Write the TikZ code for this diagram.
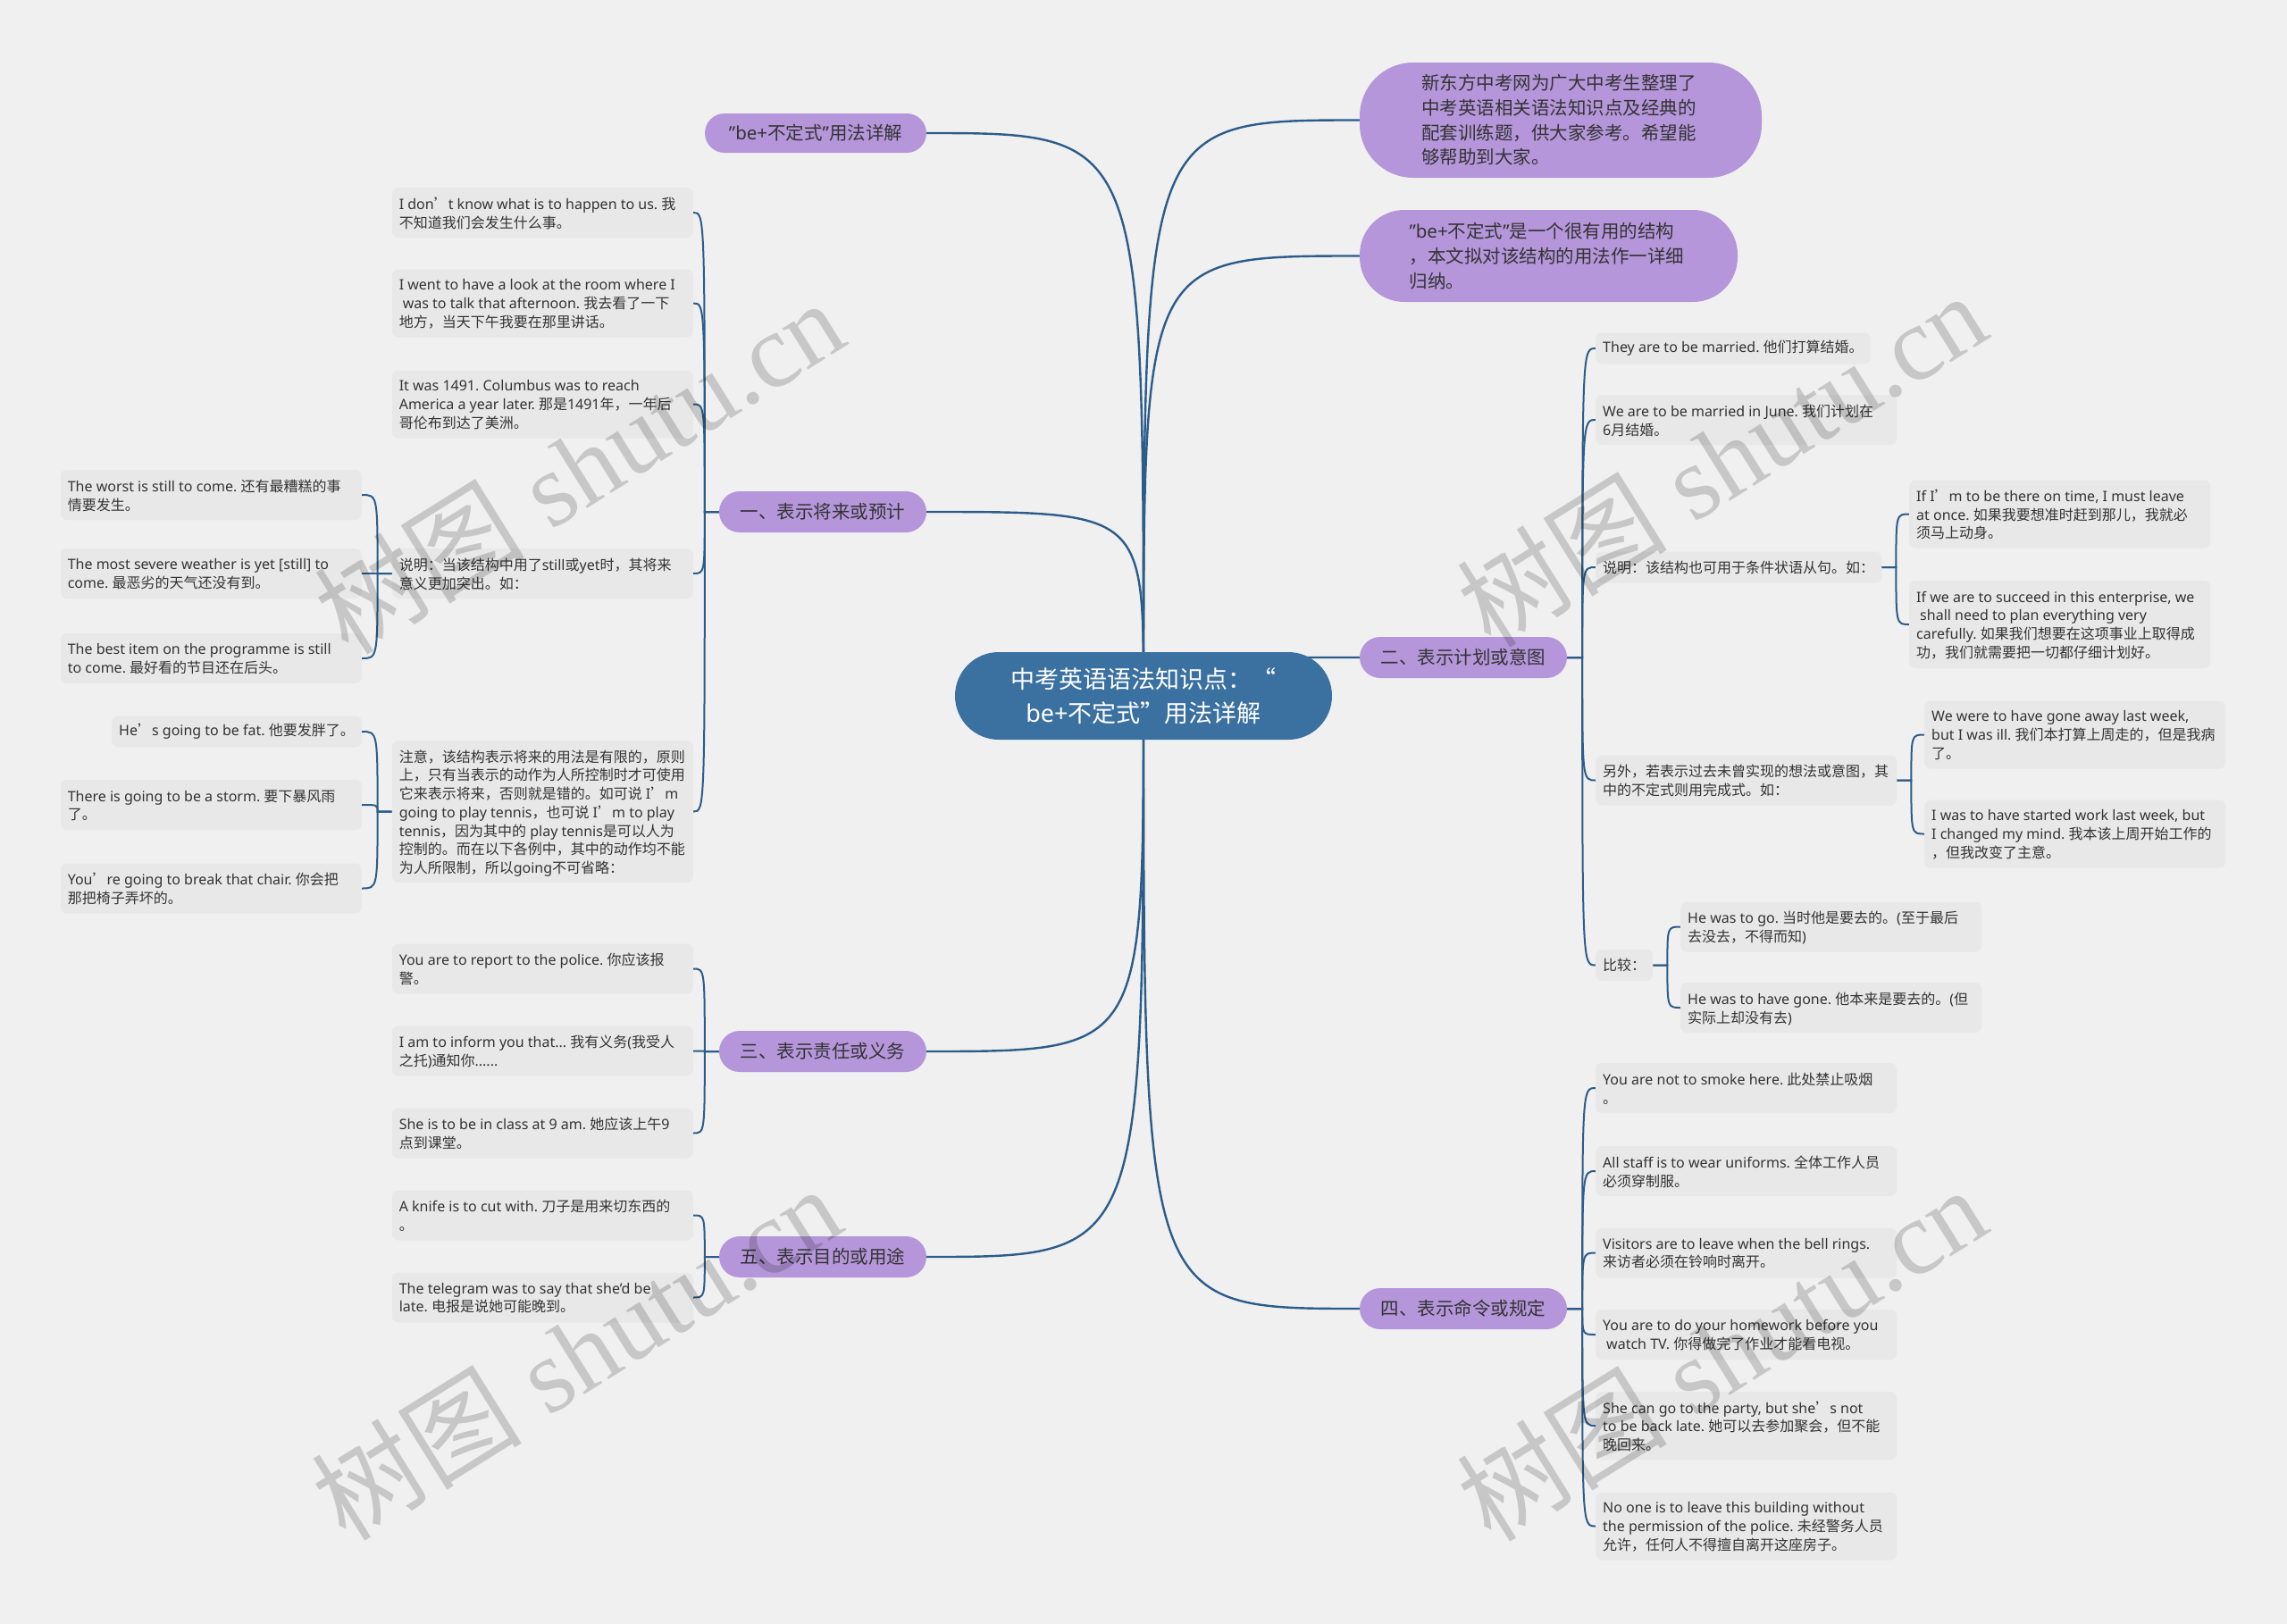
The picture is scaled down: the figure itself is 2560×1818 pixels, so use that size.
\documentclass[tikz,border=0pt]{standalone}
\usepackage{fontspec}
\setmainfont{Noto Sans}
\newfontfamily\zhfont{Noto Sans CJK SC}
\newfontfamily\wmenfont{Liberation Serif}
\pgfdeclarelayer{bglines}
\pgfdeclarelayer{fgmarks}
\pgfsetlayers{bglines,main,fgmarks}
% automatic switch to the CJK font for CJK characters
\XeTeXinterchartokenstate=1
\newXeTeXintercharclass\cjkcls
\newcount\cjkc
\cjkc="4E00
\loop \XeTeXcharclass\cjkc=\cjkcls \advance\cjkc by 1 \ifnum\cjkc<"A000 \repeat
\cjkc="3000
\loop \XeTeXcharclass\cjkc=\cjkcls \advance\cjkc by 1 \ifnum\cjkc<"3040 \repeat
\cjkc="FF00
\loop \XeTeXcharclass\cjkc=\cjkcls \advance\cjkc by 1 \ifnum\cjkc<"FFF0 \repeat
\XeTeXcharclass"2018=\cjkcls
\XeTeXcharclass"2019=\cjkcls
\XeTeXcharclass"201C=\cjkcls
\XeTeXcharclass"201D=\cjkcls
\XeTeXinterchartoks 0 \cjkcls = {\zhfont}
\XeTeXinterchartoks 4095 \cjkcls = {\zhfont}
\XeTeXinterchartoks \cjkcls 0 = {\rmfamily}
\XeTeXinterchartoks \cjkcls 4095 = {\rmfamily}
\newcommand\wmtext{\XeTeXinterchartokenstate=0\relax{\zhfont 树图}\ {\wmenfont shutu.cn}}
% fixes the text block of a wrapped box to 321pt without any re-wrapping
\newcommand\Wz{\\[-20.7pt]\hspace*{321pt}}
\definecolor{bgc}{RGB}{240,240,240}
\definecolor{leafc}{RGB}{232,232,232}
\definecolor{txtc}{RGB}{51,51,51}
\definecolor{purp}{RGB}{181,150,218}
\definecolor{rootc}{RGB}{59,113,161}
\definecolor{linec}{RGB}{44,92,138}
\begin{document}
\frenchspacing
\begin{tikzpicture}[x=1pt,y=-1pt,
  leaf/.style={fill=leafc, rounded corners=7pt, text=txtc, font=\fontsize{16}{20.7}\selectfont, inner xsep=8pt, inner ysep=2pt},
  wide/.style={leaf, align=left},
  hA/.style={minimum height=35pt},
  hB/.style={minimum height=56pt},
  hC/.style={minimum height=76pt},
  hD/.style={minimum height=98pt},
  hG/.style={minimum height=159pt},
  lv/.style={fill=purp, text=txtc, font=\fontsize{20.5}{27.7}\selectfont, inner sep=4pt},
  lvs/.style={lv, minimum width=232pt, minimum height=46pt, rounded corners=23pt},
  rootn/.style={fill=rootc, text=white, font=\fontsize{27}{37.5}\selectfont, align=center, inner sep=4pt},
  rootline/.style={draw=linec, line width=2.4pt},
  subline/.style={draw=linec, line width=2pt},
  wm/.style={font=\fontsize{118}{118}\selectfont, text=black, text opacity=0.17, rotate=32, inner sep=0pt}
]
\useasboundingbox (0,0) rectangle (2560,1818);

% ---------- root ----------
\node[rootn, minimum width=422pt, minimum height=98pt, rounded corners=49pt] (root) at (1280,779) {中考英语语法知识点：“\\be+不定式”用法详解};

% ---------- level 1 ----------
\node[lv, minimum width=248pt, minimum height=44pt, rounded corners=22pt] (n0) at (913,149) {"be+不定式"用法详解};
\node[lvs] (n1) at (921,573) {一、表示将来或预计};
\node[lvs] (n3) at (921,1177) {三、表示责任或义务};
\node[lvs] (n5) at (921,1407) {五、表示目的或用途};
\node[lvs] (n2) at (1638,736) {二、表示计划或意图};
\node[lvs] (n4) at (1638,1465) {四、表示命令或规定};
\node[lv, minimum width=450pt, minimum height=129pt, rounded corners=60pt, text width=312pt, align=left] (nA) at (1747,134.5) {新东方中考网为广大中考生整理了\\中考英语相关语法知识点及经典的\\配套训练题，供大家参考。希望能\\够帮助到大家。};
\node[lv, minimum width=423pt, minimum height=103pt, rounded corners=50pt, text width=312pt, align=left] (nB) at (1733.5,286.5) {"be+不定式"是一个很有用的结构\\，本文拟对该结构的用法作一详细\\归纳。};

% ---------- group 一 ----------
\node[wide, hB, anchor=east] (a1) at (776,238) {I don’t know what is to happen to us. 我\\不知道我们会发生什么事。\Wz};
\node[wide, hC, anchor=east] (a2) at (776,339.5) {I went to have a look at the room where I\\\hspace*{4pt}was to talk that afternoon. 我去看了一下\\地方，当天下午我要在那里讲话。\Wz};
\node[wide, hC, anchor=east] (a3) at (776,452.5) {It was 1491. Columbus was to reach\\America a year later. 那是1491年，一年后\\哥伦布到达了美洲。\Wz};
\node[wide, hB, anchor=east] (a4) at (776,642) {说明：当该结构中用了still或yet时，其将来\\意义更加突出。如：\Wz};
\node[wide, hG, anchor=east] (a5) at (776,908.5) {注意，该结构表示将来的用法是有限的，原则\\上，只有当表示的动作为人所控制时才可使用\\它来表示将来，否则就是错的。如可说 I’m\\going to play tennis，也可说 I’m to play\\tennis，因为其中的 play tennis是可以人为\\控制的。而在以下各例中，其中的动作均不能\\为人所限制，所以going不可省略：\Wz};
\node[wide, hB, anchor=east] (b1) at (405,554) {The worst is still to come. 还有最糟糕的事\\情要发生。\Wz};
\node[wide, hB, anchor=east] (b2) at (405,642) {The most severe weather is yet [still] to\\come. 最恶劣的天气还没有到。\Wz};
\node[wide, hB, anchor=east] (b3) at (405,737) {The best item on the programme is still\\to come. 最好看的节目还在后头。\Wz};
\node[leaf, hA, anchor=east] (c1) at (405,819) {He’s going to be fat. 他要发胖了。};
\node[wide, hB, anchor=east] (c2) at (405,901) {There is going to be a storm. 要下暴风雨\\了。\Wz};
\node[wide, hB, anchor=east] (c3) at (405,994.5) {You’re going to break that chair. 你会把\\那把椅子弄坏的。\Wz};

% ---------- group 三 ----------
\node[wide, hB, anchor=east] (d1) at (776,1084.5) {You are to report to the police. 你应该报\\警。\Wz};
\node[wide, hB, anchor=east] (d2) at (776,1176.5) {I am to inform you that... 我有义务(我受人\\之托)通知你......\Wz};
\node[wide, hB, anchor=east] (d3) at (776,1268.5) {She is to be in class at 9 am. 她应该上午9\\点到课堂。\Wz};

% ---------- group 五 ----------
\node[wide, hB, anchor=east] (e1) at (776,1360.5) {A knife is to cut with. 刀子是用来切东西的\\。\Wz};
\node[wide, hB, anchor=east] (e2) at (776,1452.5) {The telegram was to say that she'd be\\late. 电报是说她可能晚到。\Wz};

% ---------- group 二 ----------
\node[leaf, hA, anchor=west] (f1) at (1786,390) {They are to be married. 他们打算结婚。};
\node[wide, hB, anchor=west] (f2) at (1786,470) {We are to be married in June. 我们计划在\\6月结婚。\Wz};
\node[leaf, hA, anchor=west] (f3) at (1786,635) {说明：该结构也可用于条件状语从句。如：};
\node[wide, hB, anchor=west] (f4) at (1786,873.5) {另外，若表示过去未曾实现的想法或意图，其\\中的不定式则用完成式。如：\Wz};
\node[leaf, hA, anchor=west] (f5) at (1786,1080.5) {比较：};
\node[wide, hC, anchor=west] (g1) at (2137,575.5) {If I’m to be there on time, I must leave\\at once. 如果我要想准时赶到那儿，我就必\\须马上动身。\Wz};
\node[wide, hD, anchor=west] (g2) at (2137,699) {If we are to succeed in this enterprise, we\\\hspace*{4pt}shall need to plan everything very\\carefully. 如果我们想要在这项事业上取得成\\功，我们就需要把一切都仔细计划好。\Wz};
\node[wide, hC, anchor=west] (h1) at (2154,822.5) {We were to have gone away last week,\\but I was ill. 我们本打算上周走的，但是我病\\了。\Wz};
\node[wide, hC, anchor=west] (h2) at (2154,933.5) {I was to have started work last week, but\\I changed my mind. 我本该上周开始工作的\\，但我改变了主意。\Wz};
\node[wide, hB, anchor=west] (i1) at (1881,1037.5) {He was to go. 当时他是要去的。(至于最后\\去没去，不得而知)\Wz};
\node[wide, hB, anchor=west] (i2) at (1881,1128) {He was to have gone. 他本来是要去的。(但\\实际上却没有去)\Wz};

% ---------- group 四 ----------
\node[wide, hB, anchor=west] (j1) at (1786,1218) {You are not to smoke here. 此处禁止吸烟\\。\Wz};
\node[wide, hB, anchor=west] (j2) at (1786,1311) {All staff is to wear uniforms. 全体工作人员\\必须穿制服。\Wz};
\node[wide, hB, anchor=west] (j3) at (1786,1402.5) {Visitors are to leave when the bell rings.\\来访者必须在铃响时离开。\Wz};
\node[wide, hB, anchor=west] (j4) at (1786,1494) {You are to do your homework before you\\\hspace*{4pt}watch TV. 你得做完了作业才能看电视。\Wz};
\node[wide, hC, anchor=west] (j5) at (1786,1596) {She can go to the party, but she’s not\\to be back late. 她可以去参加聚会，但不能\\晚回来。\Wz};
\node[wide, hC, anchor=west] (j6) at (1786,1708.5) {No one is to leave this building without\\the permission of the police. 未经警务人员\\允许，任何人不得擅自离开这座房子。\Wz};

% ---------- spine coordinates ----------
\coordinate (s1) at ([xshift=-16pt]n1.west);
\coordinate (s3) at ([xshift=-16pt]n3.west);
\coordinate (s5) at ([xshift=-16pt]n5.west);
\coordinate (sa4) at ([xshift=-16pt]a4.west);
\coordinate (sa5) at ([xshift=-16pt]a5.west);
\coordinate (s2) at ([xshift=17pt]n2.east);
\coordinate (s4) at ([xshift=17pt]n4.east);
\coordinate (sf3) at ([xshift=16pt]f3.east);
\coordinate (sf4) at ([xshift=16pt]f4.east);
\coordinate (sf5) at ([xshift=16pt]f5.east);

% ---------- connectors ----------
\begin{pgfonlayer}{bglines}
\fill[bgc] (0,0) rectangle (2560,1818);
\foreach \q in {n0,n1,n3,n5}
  \draw[rootline] (root.center) .. controls (root.center |- \q.east) .. (\q.east);
\foreach \q in {nA,nB,n2,n4}
  \draw[rootline] (root.center) .. controls (root.center |- \q.west) .. (\q.west);
\foreach \q in {a1,a2,a3,a4,a5}
  \draw[subline] (n1.west) -- (s1) .. controls (s1 |- \q.east) .. (\q.east);
\foreach \q in {b1,b2,b3}
  \draw[subline] (a4.west) -- (sa4) .. controls (sa4 |- \q.east) .. (\q.east);
\foreach \q in {c1,c2,c3}
  \draw[subline] (a5.west) -- (sa5) .. controls (sa5 |- \q.east) .. (\q.east);
\foreach \q in {d1,d2,d3}
  \draw[subline] (n3.west) -- (s3) .. controls (s3 |- \q.east) .. (\q.east);
\foreach \q in {e1,e2}
  \draw[subline] (n5.west) -- (s5) .. controls (s5 |- \q.east) .. (\q.east);
\foreach \q in {f1,f2,f3,f4,f5}
  \draw[subline] (n2.east) -- (s2) .. controls (s2 |- \q.west) .. (\q.west);
\foreach \q in {g1,g2}
  \draw[subline] (f3.east) -- (sf3) .. controls (sf3 |- \q.west) .. (\q.west);
\foreach \q in {h1,h2}
  \draw[subline] (f4.east) -- (sf4) .. controls (sf4 |- \q.west) .. (\q.west);
\foreach \q in {i1,i2}
  \draw[subline] (f5.east) -- (sf5) .. controls (sf5 |- \q.west) .. (\q.west);
\foreach \q in {j1,j2,j3,j4,j5,j6}
  \draw[subline] (n4.east) -- (s4) .. controls (s4 |- \q.west) .. (\q.west);
\end{pgfonlayer}

% ---------- watermarks ----------
\begin{pgfonlayer}{fgmarks}
\node[wm] (w1) at (648,522) {\wmtext};
\node[wm] (w2) at (645,1514) {\wmtext};
\node[wm] (w3) at (1927,514) {\wmtext};
\node[wm] (w4) at (1927,1515) {\wmtext};
\end{pgfonlayer}
\end{tikzpicture}
\end{document}
